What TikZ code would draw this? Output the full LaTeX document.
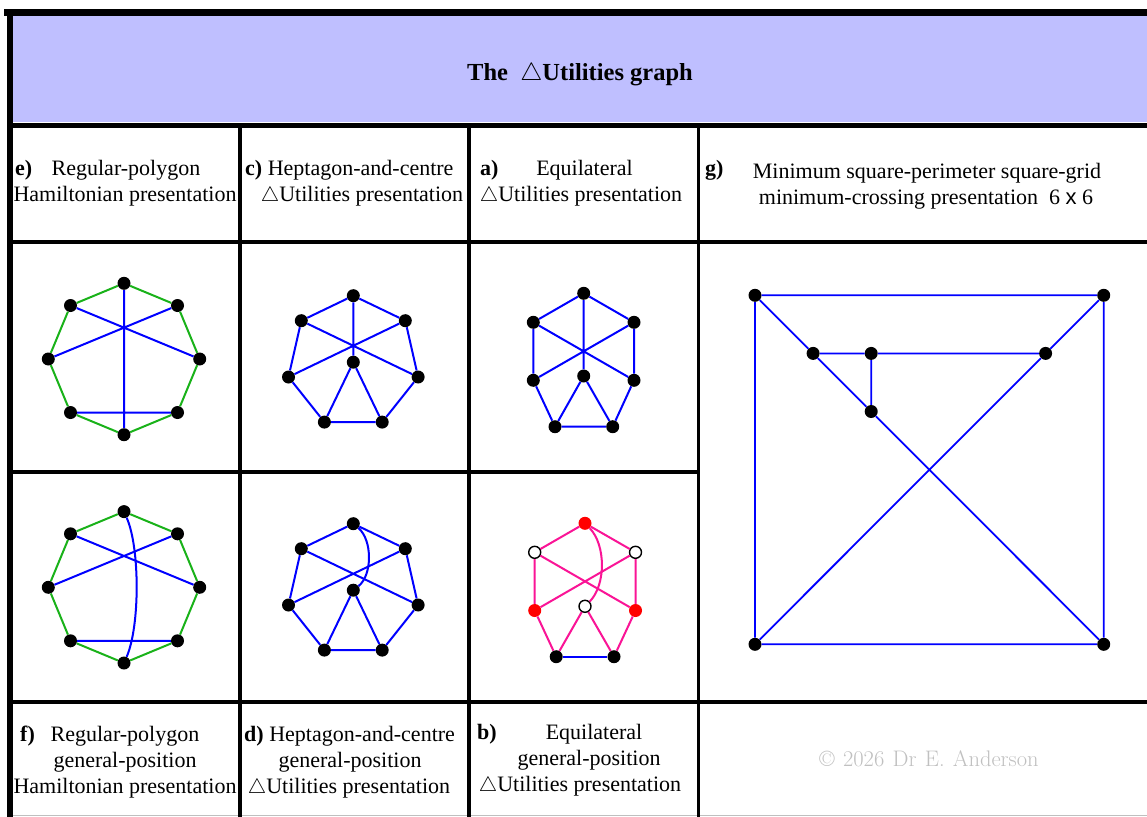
\documentclass[tikz,border=0pt]{standalone}
\usepackage{fontspec}
\setmainfont{Liberation Serif}
\setsansfont{Liberation Sans}
\definecolor{lav}{RGB}{191,191,255}
\definecolor{grn}{RGB}{25,178,25}
\definecolor{pnk}{RGB}{250,20,150}
\definecolor{cgrey}{RGB}{192,192,192}
\tikzset{
  dot/.style={circle,fill=black,inner sep=0pt,minimum size=13pt},
  rdot/.style={circle,fill=red,inner sep=0pt,minimum size=13pt},
  wdot/.style={circle,fill=white,draw=black,line width=1.4pt,inner sep=0pt,minimum size=12pt},
  be/.style={draw=blue,line width=2pt},
  ge/.style={draw=grn,line width=2pt},
  pe/.style={draw=pnk,line width=2pt},
  gbe/.style={draw=blue,line width=1.8pt},
  rule/.style={draw=black,line cap=rect},
  lbl/.style={font=\fontsize{22}{26}\selectfont,inner sep=0pt,anchor=base},
  cpy/.style={font=\fontfamily{lmr}\fontsize{22.5}{26}\selectfont,text=cgrey,inner sep=0pt,anchor=base},
}
\begin{document}
\begin{tikzpicture}[x=1pt,y=-1pt]
\useasboundingbox (0,0) rectangle (1147,816);
\fill[white] (0,0) rectangle (1147,816);
% header
\fill[lav] (13,16) rectangle (1147,122);
\node[font=\bfseries\fontsize{24.5}{28}\selectfont,inner sep=0pt,anchor=base] (title) at (580,81) {The\ \ $\triangle$Utilities graph};
% table rules
\draw[black!25,line width=1pt] (13,815.5) -- (1147,815.5);
\draw[rule,line width=7pt] (7,12.5) -- (1147,12.5);
\draw[rule,line width=6pt] (10,12) -- (10,816);
\draw[rule,line width=5pt] (10,125) -- (1147,125);
\draw[rule,line width=4pt] (10,242) -- (1147,242);
\draw[rule,line width=4pt] (10,472) -- (698,472);
\draw[rule,line width=4pt] (10,702) -- (1147,702);
\draw[rule,line width=3.5pt] (240,125) -- (240,816);
\draw[rule,line width=4.5pt] (469,125) -- (469,816);
\draw[rule,line width=3pt] (698,125) -- (698,816);

% ---------- panel e ----------
\node[dot] (e1) at (124,283.3) {};
\node[dot] (e2) at (177.5,305.5) {};
\node[dot] (e3) at (199.7,359) {};
\node[dot] (e4) at (177.5,412.5) {};
\node[dot] (e5) at (124,434.7) {};
\node[dot] (e6) at (70.5,412.5) {};
\node[dot] (e7) at (48.3,359) {};
\node[dot] (e8) at (70.5,305.5) {};
\draw[ge] (e1)--(e2) (e2)--(e3) (e3)--(e4) (e4)--(e5) (e5)--(e6) (e6)--(e7) (e7)--(e8) (e8)--(e1);
\draw[be] (e1)--(e5) (e8)--(e3) (e2)--(e7) (e6)--(e4);

% ---------- panel f ----------
\node[dot] (f1) at (124,511.6) {};
\node[dot] (f2) at (177.5,533.8) {};
\node[dot] (f3) at (199.7,587.3) {};
\node[dot] (f4) at (177.5,640.8) {};
\node[dot] (f5) at (124,663) {};
\node[dot] (f6) at (70.5,640.8) {};
\node[dot] (f7) at (48.3,587.3) {};
\node[dot] (f8) at (70.5,533.8) {};
\draw[ge] (f1)--(f2) (f2)--(f3) (f3)--(f4) (f4)--(f5) (f5)--(f6) (f6)--(f7) (f7)--(f8) (f8)--(f1);
\draw[be] (f8)--(f3) (f2)--(f7) (f6)--(f4);
\draw[be] (f1) .. controls (140,548) and (140,626) .. (f5);

% ---------- panel c ----------
\node[dot] (c1) at (353.3,295.7) {};
\node[dot] (c2) at (405.3,320.7) {};
\node[dot] (c3) at (418.1,377) {};
\node[dot] (c4) at (382.2,422.1) {};
\node[dot] (c5) at (324.4,422.1) {};
\node[dot] (c6) at (288.5,377) {};
\node[dot] (c7) at (301.3,320.7) {};
\node[dot] (c8) at (353.3,362.2) {};
\draw[be] (c1)--(c2) (c2)--(c3) (c3)--(c4) (c4)--(c5) (c5)--(c6) (c6)--(c7) (c7)--(c1)
  (c1)--(c8) (c7)--(c3) (c2)--(c6) (c8)--(c5) (c8)--(c4);

% ---------- panel d ----------
\node[dot] (d1) at (353.3,523.7) {};
\node[dot] (d2) at (405.3,548.7) {};
\node[dot] (d3) at (418.1,605) {};
\node[dot] (d4) at (382.2,650.1) {};
\node[dot] (d5) at (324.4,650.1) {};
\node[dot] (d6) at (288.5,605) {};
\node[dot] (d7) at (301.3,548.7) {};
\node[dot] (d8) at (353.3,590.2) {};
\draw[be] (d1)--(d2) (d2)--(d3) (d3)--(d4) (d4)--(d5) (d5)--(d6) (d6)--(d7) (d7)--(d1)
  (d7)--(d3) (d2)--(d6) (d8)--(d5) (d8)--(d4);
\draw[be] (d1) .. controls (372.5,540) and (372.5,575) .. (d8);

% ---------- panel a ----------
\node[dot] (a1) at (583.7,293.3) {};
\node[dot] (a2) at (634,322.3) {};
\node[dot] (a3) at (634,380.3) {};
\node[dot] (a4) at (612.7,426.7) {};
\node[dot] (a5) at (555,426.7) {};
\node[dot] (a6) at (533.3,380.3) {};
\node[dot] (a7) at (533.3,322.3) {};
\node[dot] (a8) at (583.7,376) {};
\draw[be] (a1)--(a2) (a2)--(a3) (a3)--(a4) (a4)--(a5) (a5)--(a6) (a6)--(a7) (a7)--(a1)
  (a1)--(a8) (a7)--(a3) (a2)--(a6) (a8)--(a5) (a8)--(a4);

% ---------- panel b ----------
\node[rdot] (b1) at (585,523.3) {};
\node[wdot] (b2) at (635.5,552.3) {};
\node[rdot] (b3) at (635.5,610.5) {};
\node[dot]  (b4) at (614,656.7) {};
\node[dot]  (b5) at (556.2,656.7) {};
\node[rdot] (b6) at (534.7,610.5) {};
\node[wdot] (b7) at (534.7,552.3) {};
\node[wdot] (b8) at (585,606.3) {};
\draw[pe] (b1)--(b2) (b1)--(b7) (b7)--(b6) (b2)--(b3) (b7)--(b3) (b2)--(b6)
  (b6)--(b5) (b3)--(b4) (b8)--(b5) (b8)--(b4);
\draw[pe] (b1) .. controls (606,545) and (606,585) .. (b8);
\draw[be] (b5)--(b4);

% ---------- panel g ----------
\node[dot] (g1) at (755,295.3) {};
\node[dot] (g2) at (1103.7,295.3) {};
\node[dot] (g3) at (755,644.3) {};
\node[dot] (g4) at (1103.7,644.3) {};
\node[dot] (gA) at (813.1,353.4) {};
\node[dot] (gB) at (871.2,353.4) {};
\node[dot] (gC) at (1045.6,353.4) {};
\node[dot] (gD) at (871.2,411.5) {};
\draw[gbe] (g1)--(g2) (g1)--(g3) (g2)--(g4) (g3)--(g4)
  (g1)--(gA) (gA)--(gB) (gB)--(gC) (gC)--(g2) (gB)--(gD) (gA)--(gD) (gD)--(g4) (g3)--(gC);

% ---------- labels top row ----------
\node[lbl,anchor=base west] (le1) at (15,175) {\textbf{e)}};
\node[lbl] (le2) at (126,175) {Regular-polygon};
\node[lbl] (le3) at (125,201) {Hamiltonian presentation};
\node[lbl,anchor=base west] (lc1) at (245,175) {\textbf{c)} Heptagon-and-centre};
\node[lbl] (lc2) at (362,201) {$\triangle$Utilities presentation};
\node[lbl,anchor=base west] (la1) at (480,175) {\textbf{a)}};
\node[lbl] (la2) at (584.5,175) {Equilateral};
\node[lbl] (la3) at (581,201) {$\triangle$Utilities presentation};
\node[lbl,anchor=base west] (lg1) at (705,175) {\textbf{g)}};
\node[lbl] (lg2) at (927,178) {Minimum square-perimeter square-grid};
\node[lbl] (lg3) at (926,204) {minimum-crossing presentation\ \ 6 {\sffamily x} 6};

% ---------- labels bottom row ----------
\node[lbl,anchor=base west] (lf1) at (20,741) {\textbf{f)}};
\node[lbl] (lf2) at (125,741) {Regular-polygon};
\node[lbl] (lf3) at (125,767) {general-position};
\node[lbl] (lf4) at (125,793) {Hamiltonian presentation};
\node[lbl,anchor=base west] (ld1) at (244,741) {\textbf{d)} Heptagon-and-centre};
\node[lbl] (ld2) at (350,767) {general-position};
\node[lbl] (ld3) at (349,793) {$\triangle$Utilities presentation};
\node[lbl,anchor=base west] (lb1) at (477,739) {\textbf{b)}};
\node[lbl] (lb2) at (594,739) {Equilateral};
\node[lbl] (lb3) at (589,765) {general-position};
\node[lbl] (lb4) at (580,791) {$\triangle$Utilities presentation};
\node[cpy] (cp) at (929,766) {\textcopyright\hspace{0.37em}2026\hspace{0.37em}Dr\hspace{0.37em}E.\hspace{0.37em}Anderson};
\end{tikzpicture}
\end{document}
